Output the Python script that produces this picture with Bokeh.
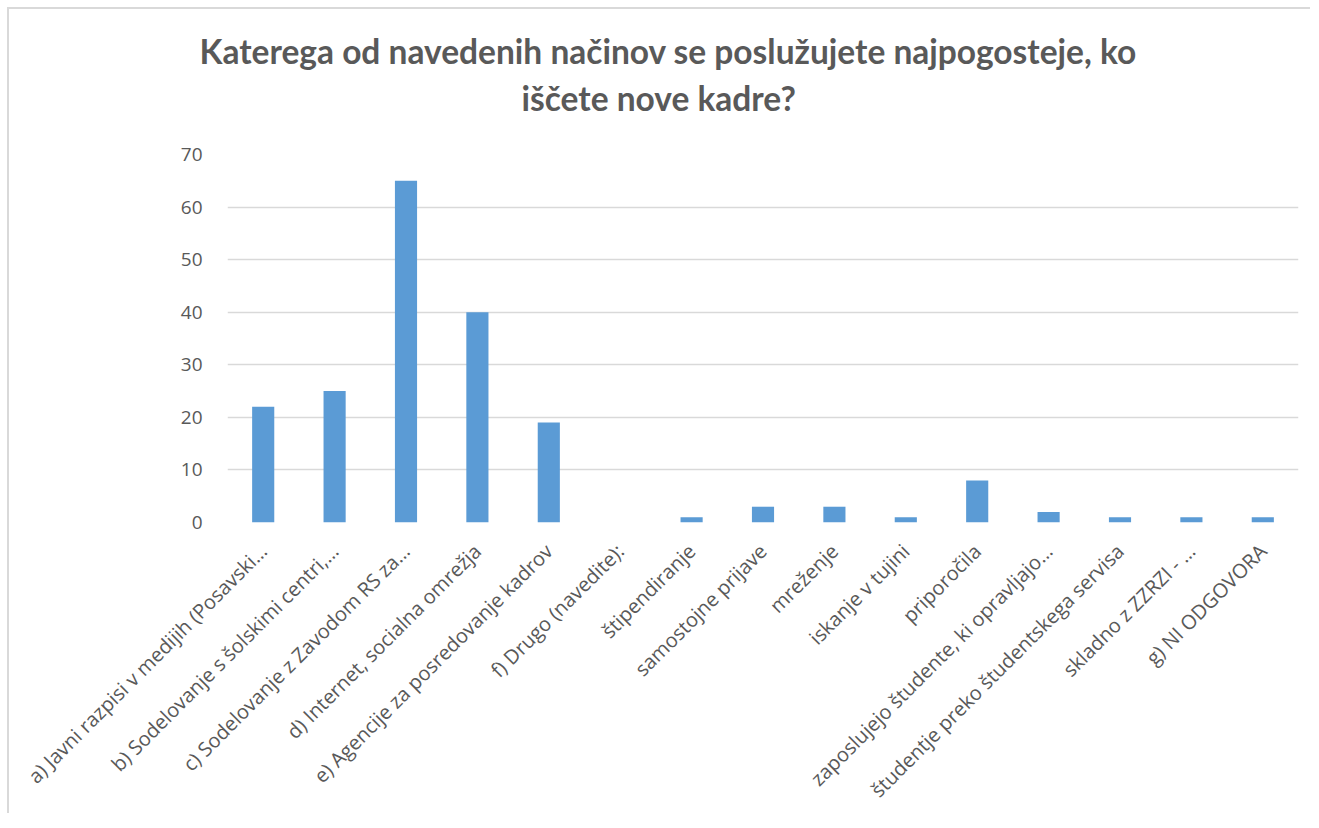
import math
from bokeh.plotting import figure
from bokeh.models import Title, FactorRange, Range1d, ColumnDataSource
from bokeh.embed import file_html
from bokeh.resources import INLINE

categories = [
    "a) Javni razpisi v medijih (Posavski…",
    "b) Sodelovanje s šolskimi centri,…",
    "c) Sodelovanje z Zavodom RS za…",
    "d) Internet, socialna omrežja",
    "e) Agencije za posredovanje kadrov",
    "f) Drugo (navedite):",
    "štipendiranje",
    "samostojne prijave",
    "mreženje",
    "iskanje v tujini",
    "priporočila",
    "zaposlujejo študente, ki opravljajo…",
    "študentje preko študentskega servisa",
    "skladno z ZZRZI - …",
    "g) NI ODGOVORA",
]
counts = [22, 25, 65, 40, 19, 0, 1, 3, 3, 1, 8, 2, 1, 1, 1]
y_ticks = [0, 10, 20, 30, 40, 50, 60, 70]
title_line1 = "Katerega od navedenih načinov se poslužujete najpogosteje, ko"
title_line2 = "iščete nove kadre?"

src = ColumnDataSource(dict(cat=categories, val=counts))

p = figure(
    x_range=FactorRange(*categories, range_padding=0),
    y_range=Range1d(0, 70),
    width=1303, height=806,
    output_backend="svg", toolbar_location=None,
    title=None,
    min_border_left=218, min_border_right=14,
    min_border_top=145, min_border_bottom=291,
    styles={"border-top": "2px solid #d9d9d9", "border-left": "2px solid #d9d9d9",
            "margin-top": "7px", "margin-left": "7px"},
)

p.vbar(x="cat", top="val", width=0.31, source=src, fill_color="#5B9BD5", line_color=None)

p.outline_line_color = None
p.xgrid.grid_line_color = None
p.ygrid.grid_line_color = "#d9d9d9"
p.ygrid.grid_line_width = 1.5

p.yaxis.ticker = y_ticks
p.yaxis.axis_line_color = None
p.yaxis.major_tick_line_color = None
p.yaxis.minor_tick_line_color = None
p.yaxis.major_label_text_font = "Open Sans"
p.yaxis.major_label_text_font_size = "19px"
p.yaxis.major_label_text_color = "#595959"
p.yaxis.major_label_standoff = 19

p.xaxis.axis_line_color = None
p.xaxis.major_tick_line_color = None
p.xaxis.minor_tick_line_color = None
p.xaxis.major_label_orientation = math.pi / 4
p.xaxis.major_label_text_font = "Open Sans"
p.xaxis.major_label_text_font_size = "20px"
p.xaxis.major_label_text_color = "#595959"
p.xaxis.major_label_standoff = 19

spacer = Title(text=" ", text_font_size="1px", standoff=29)
t2 = Title(text=title_line2, align="left", offset=294, standoff=10,
           text_font="Lato", text_font_size="33.5px", text_font_style="bold",
           text_color="#595959")
t1 = Title(text=title_line1, align="left", offset=-28, standoff=0,
           text_font="Lato", text_font_size="33.5px", text_font_style="bold",
           text_color="#595959")
p.add_layout(spacer, "above")
p.add_layout(t2, "above")
p.add_layout(t1, "above")

open("out.html", "w").write(file_html(p, INLINE))
